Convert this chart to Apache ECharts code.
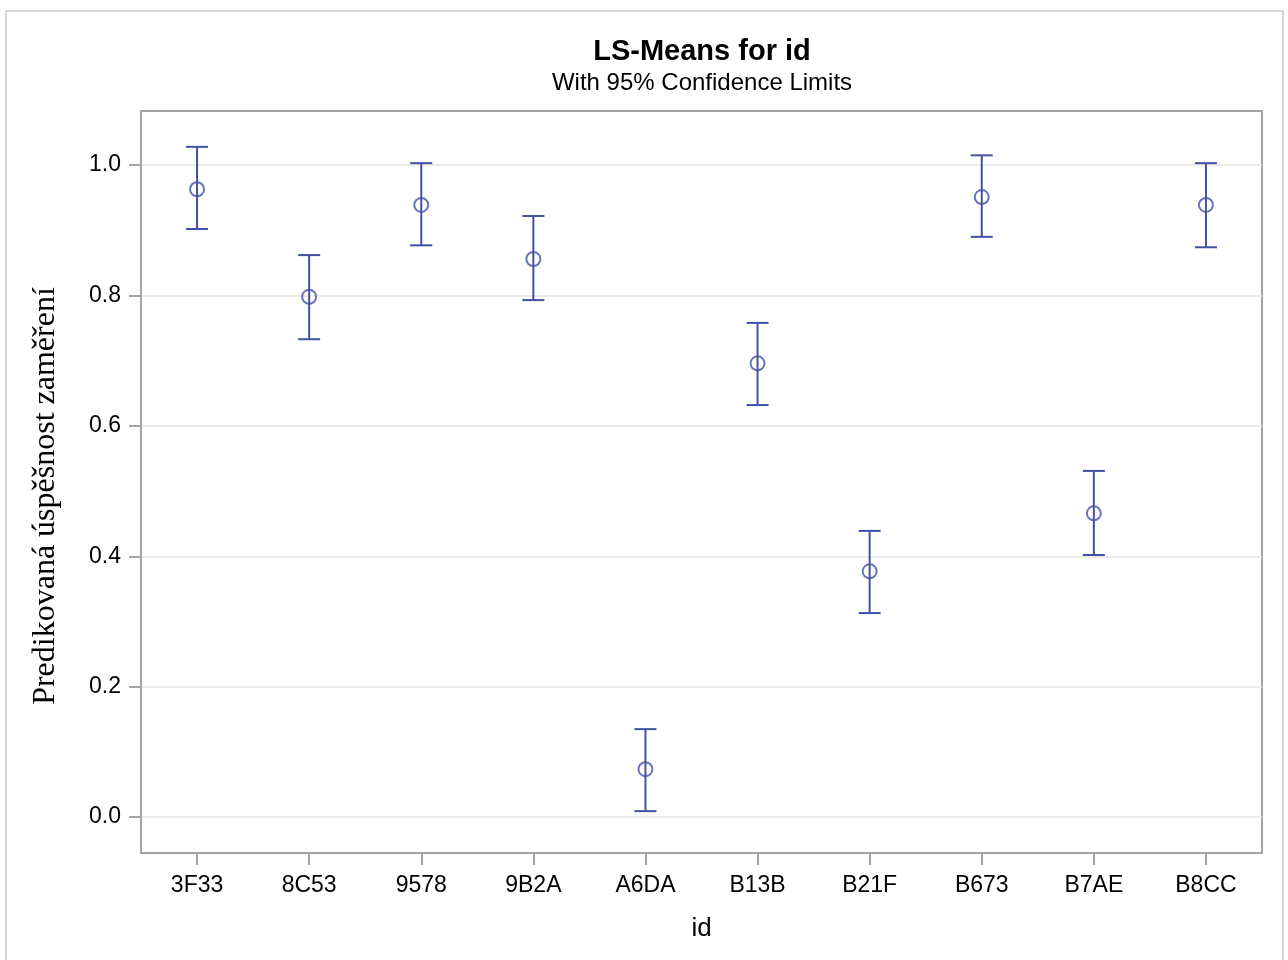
<!DOCTYPE html>
<html><head><meta charset="utf-8">
<script src="https://cdn.jsdelivr.net/npm/echarts@6/dist/echarts.min.js"></script>
<style>html,body{margin:0;padding:0;background:#fff}#c{width:1288px;height:960px}</style>
</head><body><div id="c"></div>
<script>
const categories = ['3F33','8C53','9578','9B2A','A6DA','B13B','B21F','B673','B7AE','B8CC'];
const means = [0.963, 0.798, 0.939, 0.856, 0.0736, 0.696, 0.377, 0.951, 0.466, 0.939];
const upper = [1.028, 0.862, 1.003, 0.922, 0.135, 0.758, 0.439, 1.015, 0.531, 1.003];
const lower = [0.902, 0.733, 0.877, 0.793, 0.0092, 0.632, 0.313, 0.890, 0.402, 0.874];
const yTicks = [0.0, 0.2, 0.4, 0.6, 0.8, 1.0];

const col = '#4152A0';
const axisCol = '#A0A4A8';
const chart = echarts.init(document.getElementById('c'), null, {renderer:'canvas'});
const errData = categories.map((c,i)=>[i, lower[i], upper[i]]);
chart.setOption({
  animation:false,
  backgroundColor:'#fff',
  graphic:[{type:'rect', shape:{x:6,y:11,width:1277,height:1000}, style:{fill:'none', stroke:'#D6D6D6', lineWidth:2}, silent:true, z:-1}],
  title:{
    text:'LS-Means for id', subtext:'With 95% Confidence Limits',
    left:697, top:32, textAlign:'center', itemGap:5,
    textStyle:{fontFamily:'Liberation Sans, Arial', fontWeight:'bold', fontSize:29, color:'#000'},
    subtextStyle:{fontFamily:'Liberation Sans, Arial', fontSize:24, color:'#000'}
  },
  grid:{left:141, right:26, top:111, bottom:107, show:true, borderColor:axisCol, borderWidth:2},
  xAxis:{
    type:'category', data:categories, boundaryGap:true,
    name:'id', nameLocation:'middle', nameGap:63,
    nameTextStyle:{fontFamily:'Liberation Sans, Arial', fontSize:26, color:'#000'},
    axisLine:{show:true, onZero:false, lineStyle:{color:axisCol, width:2}},
    axisTick:{show:true, alignWithLabel:true, length:12, lineStyle:{color:axisCol, width:2}},
    axisLabel:{fontFamily:'Liberation Sans, Arial', fontSize:23, color:'#000', margin:21, interval:0},
    splitLine:{show:false}
  },
  yAxis:{
    type:'value', min:-0.055, max:1.083, interval:0.2,
    name:'Predikovaná úspěšnost zaměření', nameLocation:'middle', nameGap:79,
    nameTextStyle:{fontFamily:'Liberation Serif, Times New Roman, serif', fontSize:32, color:'#000', padding:[0,28,0,0]},
    axisLine:{show:true, onZero:false, lineStyle:{color:axisCol, width:2}},
    axisTick:{show:true, length:12, lineStyle:{color:axisCol, width:2},
      customValues: yTicks},
    axisLabel:{fontFamily:'Liberation Sans, Arial', fontSize:23, color:'#000', margin:20,
      customValues: yTicks, formatter:v=>v.toFixed(1)},
    splitLine:{show:true, lineStyle:{color:'#E4E4E4', width:1.5}}
  },
  series:[
    {
      type:'custom', data:errData, z:2,
      renderItem:(params, api)=>{
        const x = api.value(0);
        const lo = api.coord([x, api.value(1)]);
        const hi = api.coord([x, api.value(2)]);
        const hw = 11;
        const st = {stroke:col, lineWidth:2, fill:'none'};
        return {type:'group', children:[
          {type:'line', shape:{x1:lo[0],y1:lo[1],x2:hi[0],y2:hi[1]}, style:st},
          {type:'line', shape:{x1:lo[0]-hw,y1:lo[1],x2:lo[0]+hw,y2:lo[1]}, style:st},
          {type:'line', shape:{x1:hi[0]-hw,y1:hi[1],x2:hi[0]+hw,y2:hi[1]}, style:st}
        ]};
      },
      encode:{x:0, y:[1,2]}
    },
    {
      type:'scatter', data:categories.map((c,i)=>[i, means[i]]), z:3,
      symbol:'circle', symbolSize:14,
      itemStyle:{color:'rgba(255,255,255,0)', borderColor:col, borderWidth:2}
    }
  ]
});
</script></body></html>
